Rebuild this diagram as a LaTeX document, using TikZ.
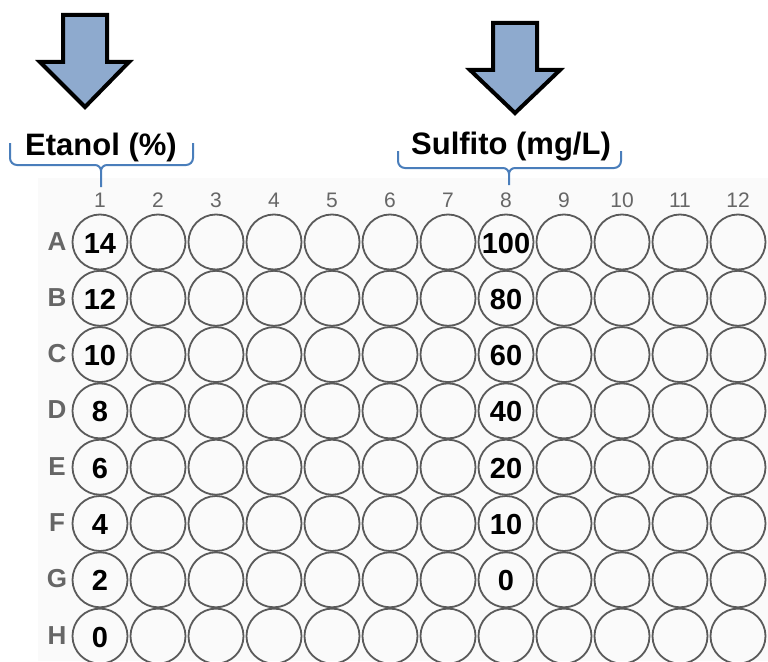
\documentclass[tikz,border=0pt]{standalone}
\usepackage{fontspec}
\setmainfont{Liberation Sans}
\definecolor{arrowfill}{HTML}{8EAACE}
\definecolor{bracecol}{HTML}{4A7EBB}
\definecolor{wellline}{HTML}{5A5A5A}
\definecolor{labelgray}{HTML}{666666}
\begin{document}
\begin{tikzpicture}[x=1pt,y=-1pt,
  well/.style={circle,draw=wellline,line width=1.8pt,minimum size=55pt,inner sep=0pt},
  wellnum/.style={font=\fontsize{29}{31}\selectfont\bfseries,text=black,inner sep=0pt,anchor=base},
  collabel/.style={font=\fontsize{21}{23}\selectfont,text=labelgray,inner sep=0pt,anchor=base},
  rowlabel/.style={font=\fontsize{26}{28}\selectfont\bfseries,text=labelgray,inner sep=0pt,anchor=base},
  title/.style={font=\fontsize{31}{34}\selectfont\bfseries,text=black,inner sep=0pt,anchor=base},
  bigarrow/.style={fill=arrowfill,draw=black,line width=4pt,line join=miter},
  brace/.style={draw=bracecol,line width=2pt,line join=round}]
\useasboundingbox (0,0) rectangle (768,661);
% faint plate background
\fill[black!2] (38,178) rectangle (768,661);

% down arrows
\draw[bigarrow] (63,15) -- (107,15) -- (107,62) -- (129,62) -- (85,107) -- (40,62) -- (63,62) -- cycle;
\draw[bigarrow] (493,23) -- (537,23) -- (537,70) -- (560,70) -- (515,113) -- (470,70) -- (493,70) -- cycle;

% headings
\node[title] (etanol) at (101,155) {Etanol (\%)};
\node[title] (sulfito) at (511,154) {Sulfito (mg/L)};

% braces
\draw[brace] (10,143) -- (10,158) to[out=-90,in=180] (17,165) -- (95,165) to[out=0,in=90] (101,171) -- (101,187);
\draw[brace] (101,171) to[out=90,in=180] (107,165) -- (186,165) to[out=0,in=-90] (193,158) -- (193,143);
\draw[brace] (398,151) -- (398,161) to[out=-90,in=180] (405,168) -- (503,168) to[out=0,in=90] (509,174) -- (509,185);
\draw[brace] (509,174) to[out=90,in=180] (515,168) -- (614,168) to[out=0,in=-90] (621,161) -- (621,151);

% column numbers
\foreach \c in {1,...,12}
  \node[collabel] (col\c) at ({100+58*(\c-1)},207) {\c};

% row letters and wells
\foreach \r/\L in {1/A,2/B,3/C,4/D,5/E,6/F,7/G,8/H} {
  \node[rowlabel] (row\L) at (57,{242+56.3*(\r-1)+8}) {\L};
  \foreach \c in {1,...,12}
    \node[well] (w\L\c) at ({100+58*(\c-1)},{242+56.3*(\r-1)}) {};
}

% ethanol concentrations, column 1
\foreach \L/\v in {A/14,B/12,C/10,D/8,E/6,F/4,G/2,H/0}
  \node[wellnum] at ([yshift=-11pt]w\L1.center) {\v};
% sulfite concentrations, column 8
\foreach \L/\v in {A/100,B/80,C/60,D/40,E/20,F/10,G/0}
  \node[wellnum] at ([yshift=-11pt]w\L8.center) {\v};
\end{tikzpicture}
\end{document}
